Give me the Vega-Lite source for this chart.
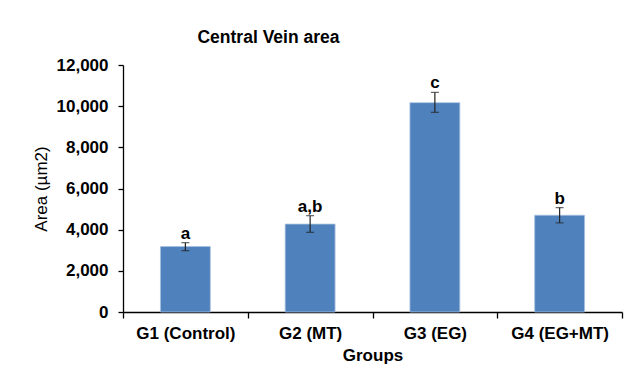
{
  "$schema": "https://vega.github.io/schema/vega-lite/v6.json",
  "width": 499,
  "height": 247,
  "autosize": {"type": "none"},
  "padding": {"left": 123, "top": 65, "right": 9, "bottom": 67},
  "background": "white",
  "title": {
    "text": "Central Vein area",
    "font": "Liberation Sans",
    "fontSize": 17.5,
    "fontWeight": "bold",
    "color": "#000000",
    "anchor": "middle",
    "frame": "group",
    "dx": -104,
    "offset": -4,
    "baseline": "alphabetic"
  },
  "data": {
    "values": [
      {"group": "G1 (Control)", "mean": 3180, "lo": 2980, "hi": 3370, "letter": "a"},
      {"group": "G2 (MT)", "mean": 4270, "lo": 3870, "hi": 4680, "letter": "a,b"},
      {"group": "G3 (EG)", "mean": 10170, "lo": 9700, "hi": 10670, "letter": "c"},
      {"group": "G4 (EG+MT)", "mean": 4700, "lo": 4330, "hi": 5070, "letter": "b"}
    ]
  },
  "config": {
    "view": {"stroke": null},
    "axis": {
      "labelColor": "#000000",
      "titleColor": "#000000",
      "domainColor": "#000000",
      "tickColor": "#000000",
      "domainWidth": 1.3,
      "tickWidth": 1.3,
      "labelFont": "Liberation Sans",
      "titleFont": "Liberation Sans",
      "labelFontSize": 17,
      "titleFontSize": 17,
      "labelFontWeight": "bold",
      "grid": false
    }
  },
  "encoding": {
    "x": {
      "field": "group",
      "type": "nominal",
      "sort": null,
      "scale": {"paddingInner": 0, "paddingOuter": 0},
      "axis": {
        "title": "Groups",
        "titleFontWeight": "bold",
        "titlePadding": 6,
        "labelAngle": 0,
        "tickBand": "extent",
        "tickSize": 6,
        "labelPadding": 7
      }
    }
  },
  "layer": [
    {
      "mark": {"type": "bar", "color": "#4F81BD", "width": {"band": 0.4}, "stroke": "#A9C0DE", "strokeWidth": 0.8},
      "encoding": {
        "y": {
          "field": "mean",
          "type": "quantitative",
          "scale": {"domain": [0, 12000], "nice": false},
          "axis": {
            "title": "Area (µm2)",
            "titleFontWeight": "normal",
            "titlePadding": 6,
            "values": [0, 2000, 4000, 6000, 8000, 10000, 12000],
            "format": ",.0f",
            "tickSize": 5,
            "labelPadding": 10
          }
        }
      }
    },
    {
      "mark": {"type": "rule", "color": "#222222", "strokeWidth": 1.2},
      "encoding": {
        "y": {"field": "lo", "type": "quantitative"},
        "y2": {"field": "hi"}
      }
    },
    {
      "mark": {"type": "tick", "color": "#222222", "thickness": 1.2, "size": 8, "orient": "horizontal"},
      "encoding": {"y": {"field": "lo", "type": "quantitative"}}
    },
    {
      "mark": {"type": "tick", "color": "#222222", "thickness": 1.2, "size": 8, "orient": "horizontal"},
      "encoding": {"y": {"field": "hi", "type": "quantitative"}}
    },
    {
      "mark": {"type": "text", "dy": -4, "baseline": "alphabetic", "font": "Liberation Sans", "fontSize": 17, "fontWeight": "bold", "color": "#000000"},
      "encoding": {
        "y": {"field": "hi", "type": "quantitative"},
        "text": {"field": "letter"}
      }
    }
  ]
}
